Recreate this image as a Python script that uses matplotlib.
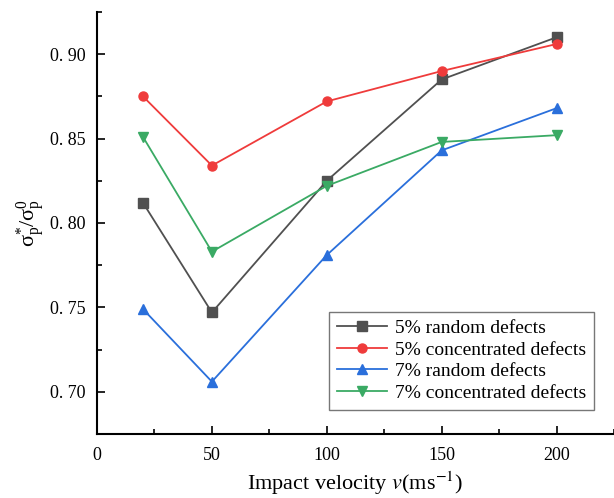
import matplotlib
matplotlib.use("Agg")
import matplotlib.pyplot as plt
from matplotlib.ticker import FixedLocator, MultipleLocator

plt.rcParams["font.family"] = ["Liberation Serif", "DejaVu Serif"]
plt.rcParams["mathtext.fontset"] = "stix"

# Datos
velocity = [20, 50, 100, 150, 200]
random_5 = [0.812, 0.747, 0.825, 0.885, 0.910]
concentrated_5 = [0.875, 0.834, 0.872, 0.890, 0.906]
random_7 = [0.749, 0.706, 0.781, 0.843, 0.868]
concentrated_7 = [0.851, 0.783, 0.822, 0.848, 0.852]

series_labels = ["5% random defects", "5% concentrated defects",
                 "7% random defects", "7% concentrated defects"]
y_ticks = [0.70, 0.75, 0.80, 0.85, 0.90]
y_tick_labels = ["0. 70", "0. 75", "0. 80", "0. 85", "0. 90"]
x_ticks = [0, 50, 100, 150, 200]

fig = plt.figure(figsize=(6.14, 4.98), dpi=100)
ax = fig.add_axes([0.158, 0.1285, 0.842, 0.8475])

styles = [("#505050", "s"), ("#ef3b3b", "o"), ("#2a6fdb", "^"), ("#3aaa64", "v")]
for data, label, (color, marker) in zip(
        [random_5, concentrated_5, random_7, concentrated_7], series_labels, styles):
    ax.plot(velocity, data, color=color, marker=marker, markersize=6.5,
            linewidth=1.3, label=label)

ax.set_xlim(0, 225)
ax.set_ylim(0.675, 0.925)
ax.xaxis.set_major_locator(FixedLocator(x_ticks))
ax.xaxis.set_minor_locator(MultipleLocator(25))
ax.set_yticks(y_ticks)
ax.set_yticklabels(y_tick_labels)
ax.yaxis.set_minor_locator(MultipleLocator(0.025))
ax.tick_params(which="both", direction="in", labelsize=13, width=1.2)
ax.tick_params(which="major", length=6)
ax.tick_params(which="minor", length=3.5)
ax.tick_params(axis="x", pad=9)
ax.tick_params(axis="y", pad=8)

for side in ["top", "right"]:
    ax.spines[side].set_visible(False)
for side in ["left", "bottom"]:
    ax.spines[side].set_linewidth(1.5)

ax.set_xlabel(r"Impact velocity $\mathit{v}$(ms$^{-1}$)", fontsize=16, labelpad=4)
ax.set_ylabel(r"$\mathregular{σ_{p}^{*}/σ_{p}^{0}}$", fontsize=16, labelpad=2)

leg = ax.legend(loc="lower right", bbox_to_anchor=(0.98, 0.035), fontsize=14,
                frameon=True, fancybox=False, edgecolor="#555555",
                handlelength=2.6, borderpad=0.4, labelspacing=0.2, handletextpad=0.4)
leg.get_frame().set_linewidth(1.0)

fig.savefig("out.png", dpi=100)
